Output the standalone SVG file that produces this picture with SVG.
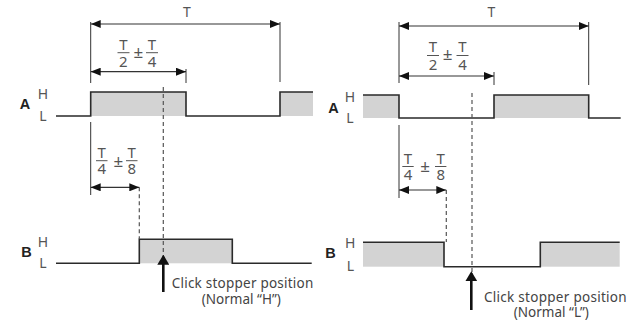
<svg xmlns="http://www.w3.org/2000/svg" width="637" height="327" viewBox="0 0 637 327">
<style>
.sig{fill:none;stroke:#2a2a2a;stroke-width:1.6}
.fill{fill:#d3d3d3;stroke:none}
.tick{stroke:#333;stroke-width:1}
.dash{stroke:#555;stroke-width:1.2;stroke-dasharray:4 3}
.dim{stroke:#333;stroke-width:1.2;marker-start:url(#ah);marker-end:url(#ah)}
.up{stroke:#111;stroke-width:2.6;marker-end:url(#uh)}
.m{font-family:"Noto Sans","Liberation Sans",sans-serif;font-size:15px;fill:#555;text-anchor:middle}
.pm{font-family:"Noto Sans","Liberation Sans",sans-serif;font-size:17px;fill:#555;text-anchor:middle}
.top{font-family:"Noto Sans","Liberation Sans",sans-serif;font-size:14px;fill:#555;text-anchor:middle}
.lbl{font-family:"Noto Sans","Liberation Sans",sans-serif;font-size:14px;fill:#555;text-anchor:middle}
.nm{font-family:"Liberation Sans","Noto Sans",sans-serif;font-size:14.5px;font-weight:bold;fill:#222;text-anchor:middle}
.cap{font-family:"Noto Sans","Liberation Sans",sans-serif;font-size:13.5px;fill:#444}
.bar{stroke:#555;stroke-width:1}
</style>
<defs>
<marker id="ah" markerUnits="userSpaceOnUse" viewBox="0 0 10 8" refX="10" refY="4" markerWidth="10" markerHeight="8" orient="auto-start-reverse"><path d="M0,0 L10,4 L0,8 Z" fill="#111"/></marker>
<marker id="uh" markerUnits="userSpaceOnUse" viewBox="0 0 10 12" refX="8" refY="6" markerWidth="10" markerHeight="12" orient="auto"><path d="M0,0 L10,6 L0,12 Z" fill="#111"/></marker>
</defs>

<g id="left-signal-A">
<rect class="fill" x="90.7" y="92" width="95.3" height="24"/>
<rect class="fill" x="280" y="92" width="33" height="24"/>
<path class="sig" d="M56,116 H90.7 V92 H186 V116 H280 V92 H313"/>
<text class="nm" x="25" y="108.5">A</text>
<text class="lbl" x="43" y="99">H</text>
<text class="lbl" x="43" y="120.5">L</text>
</g>
<g id="left-signal-B">
<rect class="fill" x="139.3" y="239.3" width="93" height="24"/>
<path class="sig" d="M56,263.3 H139.3 V239.3 H232.3 V263.3 H311.7"/>
<text class="nm" x="26.5" y="256.5">B</text>
<text class="lbl" x="43" y="246.5">H</text>
<text class="lbl" x="43" y="267.5">L</text>
</g>
<g id="left-labels">
<text class="top" x="187" y="17">T</text>
<text class="m" x="123.3" y="49.5">T</text>
<line class="bar" x1="117.5" y1="52.7" x2="129.5" y2="52.7"/>
<text class="m" x="123.3" y="66.7">2</text>
<text class="pm" x="138.3" y="57.5">±</text>
<text class="m" x="152" y="49.5">T</text>
<line class="bar" x1="146" y1="52.7" x2="158" y2="52.7"/>
<text class="m" x="152" y="66.7">4</text>
<text class="m" x="101.7" y="158.3">T</text>
<line class="bar" x1="96" y1="160.7" x2="107.5" y2="160.7"/>
<text class="m" x="101.7" y="174">4</text>
<text class="pm" x="118.3" y="166.5">±</text>
<text class="m" x="131.7" y="158.3">T</text>
<line class="bar" x1="126" y1="160.7" x2="137.5" y2="160.7"/>
<text class="m" x="131.7" y="174">8</text>
<text class="cap" x="171.7" y="288.3" textLength="141.6">Click stopper position</text>
<text class="cap" x="241.3" y="304" text-anchor="middle">(Normal “H”)</text>
</g>

<g id="right-signal-A">
<rect class="fill" x="363" y="95" width="36" height="23"/>
<rect class="fill" x="494" y="95" width="94.7" height="23"/>
<path class="sig" d="M363,95 H399 V118 H494 V95 H588.7 V118 H620.7"/>
<text class="nm" x="333.5" y="113">A</text>
<text class="lbl" x="350" y="102">H</text>
<text class="lbl" x="350" y="123">L</text>
</g>
<g id="right-signal-B">
<rect class="fill" x="363" y="242.3" width="81" height="24.4"/>
<rect class="fill" x="540.3" y="242.3" width="79.4" height="24.4"/>
<path class="sig" d="M363,242.3 H444 V266.7 H540.3 V242.3 H619.7"/>
<text class="nm" x="330.5" y="258.3">B</text>
<text class="lbl" x="350.3" y="247.5">H</text>
<text class="lbl" x="350.3" y="271">L</text>
</g>
<g id="right-labels">
<text class="top" x="491.3" y="17.3">T</text>
<text class="m" x="433" y="52">T</text>
<line class="bar" x1="427" y1="55.5" x2="439" y2="55.5"/>
<text class="m" x="433" y="69.5">2</text>
<text class="pm" x="447.5" y="60.3">±</text>
<text class="m" x="462.5" y="52">T</text>
<line class="bar" x1="456.5" y1="55.5" x2="468.5" y2="55.5"/>
<text class="m" x="462.5" y="69.5">4</text>
<text class="m" x="408" y="164">T</text>
<line class="bar" x1="402.3" y1="166.5" x2="413.7" y2="166.5"/>
<text class="m" x="408" y="179.5">4</text>
<text class="pm" x="425" y="172.3">±</text>
<text class="m" x="440.7" y="164">T</text>
<line class="bar" x1="435" y1="166.5" x2="446.4" y2="166.5"/>
<text class="m" x="440.7" y="179.5">8</text>
<text class="cap" x="484" y="301.7" textLength="142.6">Click stopper position</text>
<text class="cap" x="551.3" y="316.7" text-anchor="middle">(Normal “L”)</text>
</g>

<g id="connectors">
<line class="tick" x1="90.7" y1="22" x2="90.7" y2="83"/>
<line class="tick" x1="90.7" y1="122" x2="90.7" y2="195"/>
<line class="tick" x1="280" y1="22" x2="280" y2="82"/>
<line class="tick" x1="186" y1="69" x2="186" y2="83"/>
<line class="dash" x1="163.3" y1="87" x2="163.3" y2="258"/>
<line class="dash" x1="139.3" y1="187.3" x2="139.3" y2="239"/>
<line class="dim" x1="90.7" y1="24" x2="280" y2="24"/>
<line class="dim" x1="90.7" y1="71.7" x2="186" y2="71.7"/>
<line class="dim" x1="90.7" y1="187.3" x2="139.3" y2="187.3"/>
<line class="up" x1="163.3" y1="292" x2="163.3" y2="256.7"/>

<line class="tick" x1="399" y1="22" x2="399" y2="83"/>
<line class="tick" x1="399" y1="125" x2="399" y2="198"/>
<line class="tick" x1="588.7" y1="22" x2="588.7" y2="85"/>
<line class="tick" x1="494" y1="72" x2="494" y2="85"/>
<line class="dash" x1="472" y1="93" x2="472" y2="272"/>
<line class="dash" x1="446.3" y1="190" x2="446.3" y2="242"/>
<line class="dim" x1="399" y1="26" x2="588.7" y2="26"/>
<line class="dim" x1="399" y1="76" x2="494" y2="76"/>
<line class="dim" x1="399" y1="190" x2="446.3" y2="190"/>
<line class="up" x1="471.3" y1="310" x2="471.3" y2="273.3"/>
</g>
</svg>
